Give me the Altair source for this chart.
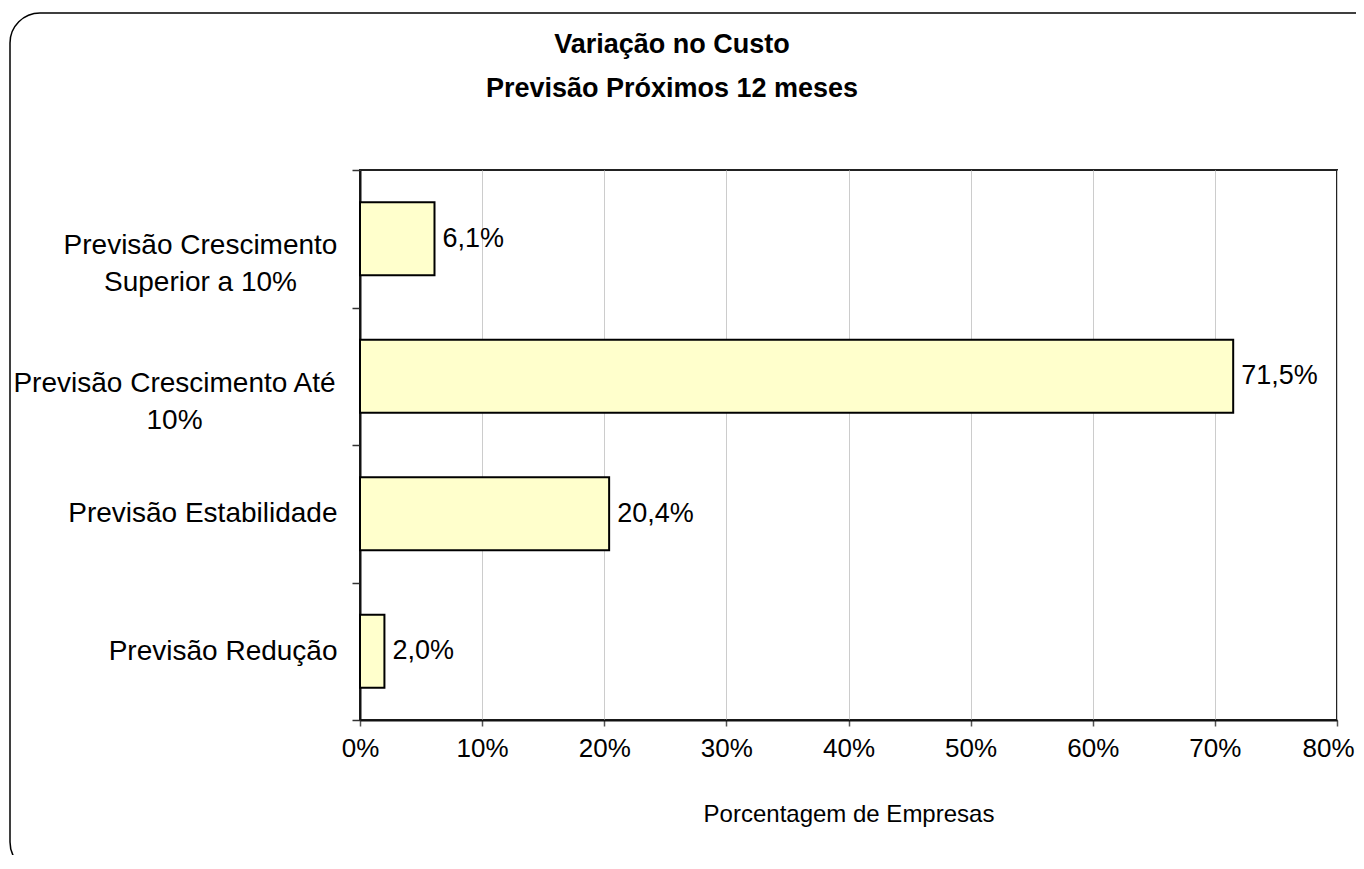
import altair as alt
import pandas as pd

categories = [
    "Previsão Crescimento|Superior a 10%",
    "Previsão Crescimento Até|10%",
    "Previsão Estabilidade",
    "Previsão Redução",
]
values = [6.1, 71.5, 20.4, 2.0]
x_ticks = [0, 10, 20, 30, 40, 50, 60, 70, 80]
title_text = "Variação no Custo\nPrevisão Próximos 12 meses"

df = pd.DataFrame({"cat": categories, "val": values})
df["lbl"] = [f"{v:.1f}".replace(".", ",") + "%" for v in values]

FONT = "Liberation Sans"
MULTI = "indexof(datum.label, '|') >= 0"

y_enc = alt.Y(
    "cat:N",
    sort=categories,
    scale=alt.Scale(paddingInner=0, paddingOuter=0),
    axis=alt.Axis(
        title=None,
        labelExpr="split(datum.label, '|')",
        labelFontSize=28,
        labelFont=FONT,
        labelColor="black",
        labelPadding={
            "condition": [
                {"test": "indexof(datum.label, 'Superior') >= 0", "value": 152},
                {"test": "indexof(datum.label, 'Até') >= 0", "value": 178},
            ],
            "value": 15,
        },
        labelLineHeight=37,
        labelBaseline={"condition": {"test": MULTI, "value": "top"}, "value": "middle"},
        labelOffset={"condition": {"test": MULTI, "value": -7}, "value": 0},
        labelAlign={"condition": {"test": MULTI, "value": "center"}, "value": "right"},
        tickBand="extent",
        tickSize=8,
        tickColor="#333333",
        tickWidth=1.5,
        domainColor="#111111",
        domainWidth=2,
        grid=False,
        labelLimit=400,
    ),
)

x_enc = alt.X(
    "val:Q",
    scale=alt.Scale(domain=[0, 80], nice=False),
    axis=alt.Axis(
        title="Porcentagem de Empresas",
        values=x_ticks,
        labelExpr="datum.value + '%'",
        labelFontSize=26,
        labelFont=FONT,
        labelColor="black",
        labelPadding=9,
        labelFlush=False,
        labelOffset={"condition": {"test": "datum.value == 80", "value": -9}, "value": 0},
        tickSize=6,
        tickColor="#555555",
        tickWidth=1.5,
        domainColor="#111111",
        domainWidth=2,
        grid=True,
        gridColor="#cccccc",
        gridWidth=1,
        titleFont=FONT,
        titleFontSize=24,
        titleFontWeight="normal",
        titleColor="black",
        titlePadding=41,
    ),
)

bars = alt.Chart(df).mark_bar(
    fill="#FFFFCC", stroke="black", strokeWidth=2, height={"band": 0.53}
).encode(x=x_enc, y=y_enc)

labels = alt.Chart(df).mark_text(
    align="left", baseline="middle", dx=8, fontSize=27, font=FONT, color="black"
).encode(x="val:Q", y=alt.Y("cat:N", sort=categories), text="lbl:N")

one = pd.DataFrame({"k": [0]})

frame = alt.Chart(one).mark_rect(
    fill="transparent", stroke="black", strokeWidth=1.5, cornerRadius=30
).encode(
    x=alt.value(-350), x2=alt.value(1100), y=alt.value(-157), y2=alt.value(702)
)

title = alt.Chart(one).mark_text(
    align="center", baseline="alphabetic", fontSize=27, fontWeight="bold",
    font=FONT, color="black", lineBreak="\n", lineHeight=44,
).encode(x=alt.value(312), y=alt.value(-117), text=alt.value(title_text))

chart = (
    alt.layer(bars, labels, frame, title)
    .properties(
        width=977,
        height=550,
        autosize=alt.AutoSizeParams(type="none"),
        padding={"left": 352, "top": 162, "right": 19, "bottom": 135},
        background="white",
    )
    .configure_view(stroke="#222222", strokeWidth=2)
)

chart.save("out.html", embed_options={"renderer": "svg", "actions": False})
